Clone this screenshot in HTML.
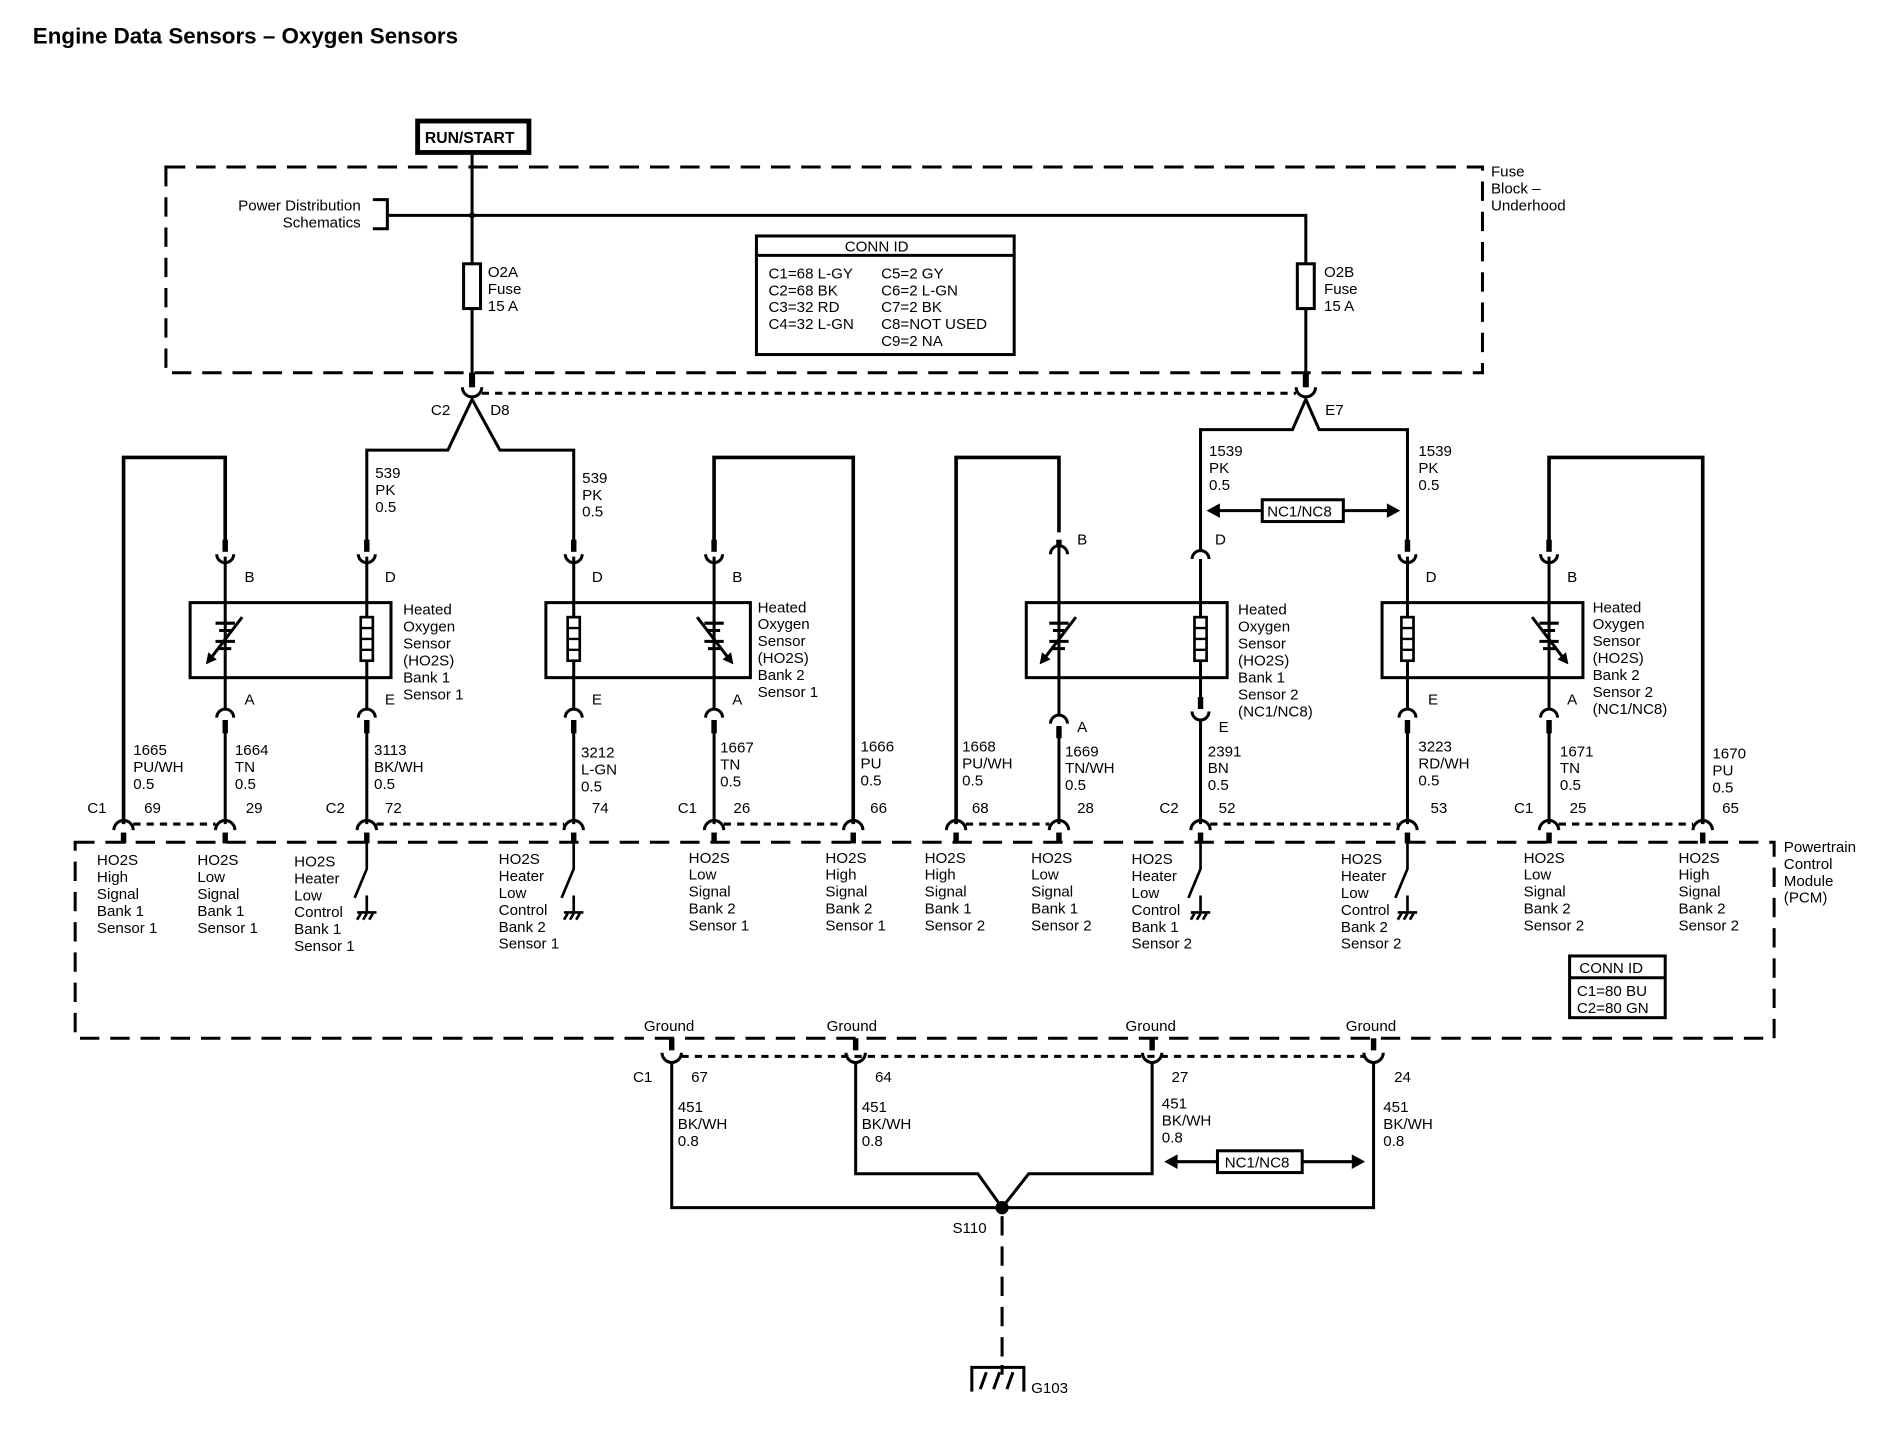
<!DOCTYPE html>
<html><head><meta charset="utf-8"><style>
html,body{margin:0;padding:0;background:#fff}
svg{display:block}
text{font-family:"Liberation Sans",Arial,sans-serif;font-size:12.5px;fill:#000}
.b{font-weight:bold}
</style></head><body>
<svg width="1888" height="1440" viewBox="0 0 1560 1190" xmlns="http://www.w3.org/2000/svg">
<rect width="1560" height="1190" fill="#fff"/>
<text x="27" y="36" class="b" style="font-size:18.5px">Engine Data Sensors – Oxygen Sensors</text>

<g fill="none" stroke="#000">
<!-- RUN/START -->
<rect x="345" y="100" width="92" height="26" stroke-width="4"/>
<!-- fuse block dashed -->
<rect x="137" y="138" width="1088" height="170" stroke-width="2.5" stroke-dasharray="16 9"/>
<!-- PCM dashed -->
<rect x="62" y="696" width="1404" height="162" stroke-width="2.5" stroke-dasharray="16 9"/>
<g stroke-width="2.5">
<line x1="390" y1="127" x2="390" y2="320"/>
<polyline points="308,165 320,165 320,189 308,189"/>
<polyline points="320,178 1079,178 1079,320"/>
<rect x="383" y="218" width="14" height="37" fill="#fff"/>
<rect x="1072" y="218" width="14" height="37" fill="#fff"/>
<!-- CONN ID -->
<rect x="625" y="195" width="213" height="98"/>
<line x1="625" y1="211" x2="838" y2="211"/>
<rect x="1297" y="790" width="79" height="51"/>
<line x1="1297" y1="808" x2="1376" y2="808"/>
</g>
<!-- dotted connector lines -->
<g stroke-width="2.5" stroke-dasharray="6 5">
<line x1="398" y1="325" x2="1071" y2="325"/>
<line x1="110" y1="681" x2="178" y2="681"/>
<line x1="311" y1="681" x2="466" y2="681"/>
<line x1="598" y1="681" x2="697" y2="681"/>
<line x1="798" y1="681" x2="867" y2="681"/>
<line x1="1000" y1="681" x2="1155" y2="681"/>
<line x1="1288" y1="681" x2="1399" y2="681"/>
<line x1="563" y1="873" x2="1127" y2="873"/>
</g>
<!-- thick stubs -->
<g stroke-width="5">
<line x1="390" y1="308" x2="390" y2="320"/>
<line x1="1079" y1="308" x2="1079" y2="320"/>
</g>
<g stroke-width="2.5">
<!-- fuse connectors -->
<path d="M382,320 A8,8 0 0 0 398,320"/>
<path d="M1071,320 A8,8 0 0 0 1087,320"/>
<polyline points="303,455 303,372 370,372 390,330 413,372 474,372 474,455"/>
<polyline points="992,455 992,355 1068,355 1079,330 1090,355 1163,355 1163,455"/>
<!-- sensor boxes -->
<rect x="157" y="498" width="166" height="62"/>
<rect x="451" y="498" width="169" height="62"/>
<rect x="848" y="498" width="166" height="62"/>
<rect x="1142" y="498" width="166" height="62"/>
</g>
<g stroke-width="3">
<polyline points="102,681 102,378 186,378 186,448"/>
<polyline points="705,681 705,378 590,378 590,448"/>
<polyline points="790,681 790,378 875,378 875,440"/>
<polyline points="1407,681 1407,378 1280,378 1280,448"/>
</g>
<g stroke-width="2.5">
<!-- vertical wires through sensors -->
<line x1="186" y1="460" x2="186" y2="585"/><line x1="186" y1="595" x2="186" y2="681"/>
<line x1="303" y1="460" x2="303" y2="585"/><line x1="303" y1="595" x2="303" y2="681"/>
<line x1="474" y1="460" x2="474" y2="585"/><line x1="474" y1="595" x2="474" y2="681"/>
<line x1="590" y1="460" x2="590" y2="585"/><line x1="590" y1="595" x2="590" y2="681"/>
<line x1="875" y1="452" x2="875" y2="590"/><line x1="875" y1="600" x2="875" y2="681"/>
<line x1="992" y1="462" x2="992" y2="585"/><line x1="992" y1="595" x2="992" y2="681"/>
<line x1="1163" y1="460" x2="1163" y2="585"/><line x1="1163" y1="595" x2="1163" y2="681"/>
<line x1="1280" y1="460" x2="1280" y2="585"/><line x1="1280" y1="595" x2="1280" y2="681"/>
</g>
<!-- top connectors U -->
<g stroke-width="2.5">
<path d="M179,458 A7,7 0 0 0 193,458"/><path d="M296,458 A7,7 0 0 0 310,458"/>
<path d="M467,458 A7,7 0 0 0 481,458"/><path d="M583,458 A7,7 0 0 0 597,458"/>
<path d="M868,458 A7,7 0 0 1 882,458"/><path d="M985,462 A7,7 0 0 1 999,462"/>
<path d="M1156,458 A7,7 0 0 0 1170,458"/><path d="M1273,458 A7,7 0 0 0 1287,458"/>
<!-- bottom connectors ∩ -->
<path d="M179,593 A7,7 0 0 1 193,593"/><path d="M296,593 A7,7 0 0 1 310,593"/>
<path d="M467,593 A7,7 0 0 1 481,593"/><path d="M583,593 A7,7 0 0 1 597,593"/>
<path d="M868,598 A7,7 0 0 1 882,598"/><path d="M985,588 A7,7 0 0 0 999,588"/>
<path d="M1156,593 A7,7 0 0 1 1170,593"/><path d="M1273,593 A7,7 0 0 1 1287,593"/>
<!-- PCM connectors -->
<path d="M94,686 A8,8 0 0 1 110,686"/><path d="M178,686 A8,8 0 0 1 194,686"/>
<path d="M295,686 A8,8 0 0 1 311,686"/><path d="M466,686 A8,8 0 0 1 482,686"/>
<path d="M582,686 A8,8 0 0 1 598,686"/><path d="M697,686 A8,8 0 0 1 713,686"/>
<path d="M782,686 A8,8 0 0 1 798,686"/><path d="M867,686 A8,8 0 0 1 883,686"/>
<path d="M984,686 A8,8 0 0 1 1000,686"/><path d="M1155,686 A8,8 0 0 1 1171,686"/>
<path d="M1272,686 A8,8 0 0 1 1288,686"/><path d="M1399,686 A8,8 0 0 1 1415,686"/>
<!-- ground connectors -->
<path d="M547,870 A8,8 0 0 0 563,870"/><path d="M699,870 A8,8 0 0 0 715,870"/>
<path d="M944,870 A8,8 0 0 0 960,870"/><path d="M1127,870 A8,8 0 0 0 1143,870"/>
</g>
<g stroke-width="4.5">
<line x1="186" y1="446" x2="186" y2="456"/><line x1="303" y1="446" x2="303" y2="456"/>
<line x1="474" y1="446" x2="474" y2="456"/><line x1="590" y1="446" x2="590" y2="456"/>
<line x1="992" y1="576" x2="992" y2="586"/><line x1="875" y1="446" x2="875" y2="452"/>
<line x1="186" y1="595" x2="186" y2="606"/><line x1="303" y1="595" x2="303" y2="606"/>
<line x1="474" y1="595" x2="474" y2="606"/><line x1="590" y1="595" x2="590" y2="606"/>
<line x1="875" y1="600" x2="875" y2="610"/><line x1="1163" y1="595" x2="1163" y2="606"/>
<line x1="1280" y1="595" x2="1280" y2="606"/><line x1="1163" y1="446" x2="1163" y2="456"/><line x1="1280" y1="446" x2="1280" y2="456"/>
<line x1="102" y1="688" x2="102" y2="697"/><line x1="186" y1="688" x2="186" y2="697"/>
<line x1="303" y1="688" x2="303" y2="697"/><line x1="474" y1="688" x2="474" y2="697"/>
<line x1="590" y1="688" x2="590" y2="697"/><line x1="705" y1="688" x2="705" y2="697"/>
<line x1="790" y1="688" x2="790" y2="697"/><line x1="875" y1="688" x2="875" y2="697"/>
<line x1="992" y1="688" x2="992" y2="697"/><line x1="1163" y1="688" x2="1163" y2="697"/>
<line x1="1280" y1="688" x2="1280" y2="697"/><line x1="1407" y1="688" x2="1407" y2="697"/>
<line x1="555" y1="858" x2="555" y2="868"/><line x1="707" y1="858" x2="707" y2="868"/>
<line x1="952" y1="858" x2="952" y2="868"/><line x1="1135" y1="858" x2="1135" y2="868"/>
</g>
<!-- heater switches + grounds -->
<g stroke-width="2.2">
<polyline points="303,697 303,718 293,742"/><polyline points="474,697 474,718 464,742"/>
<polyline points="992,697 992,718 982,742"/><polyline points="1163,697 1163,718 1153,742"/>
<line x1="303" y1="740" x2="303" y2="754"/><line x1="295" y1="754" x2="311" y2="754"/>
<line x1="474" y1="740" x2="474" y2="754"/><line x1="466" y1="754" x2="482" y2="754"/>
<line x1="992" y1="740" x2="992" y2="754"/><line x1="984" y1="754" x2="1000" y2="754"/>
<line x1="1163" y1="740" x2="1163" y2="754"/><line x1="1155" y1="754" x2="1171" y2="754"/>
<path d="M298,755 l-3,5 M303,755 l-3,5 M308,755 l-3,5 M469,755 l-3,5 M474,755 l-3,5 M479,755 l-3,5 M987,755 l-3,5 M992,755 l-3,5 M997,755 l-3,5 M1158,755 l-3,5 M1163,755 l-3,5 M1168,755 l-3,5"/>
</g>
<!-- heater elements -->
<g stroke-width="2.2" fill="#fff">
<rect x="298" y="510" width="10" height="36"/><rect x="469" y="510" width="10" height="36"/>
<rect x="987" y="510" width="10" height="36"/><rect x="1158" y="510" width="10" height="36"/>
</g>
<path stroke-width="2" d="M298,519 h10 M298,528 h10 M298,537 h10 M469,519 h10 M469,528 h10 M469,537 h10 M987,519 h10 M987,528 h10 M987,537 h10 M1158,519 h10 M1158,528 h10 M1158,537 h10"/>
<!-- O2 sensor cells -->
<g stroke-width="2.5">
<path d="M178,515 h16 M181,521 h10 M178,530 h16 M181,536 h10"/>
<path d="M582,515 h16 M585,521 h10 M582,530 h16 M585,536 h10"/>
<path d="M867,515 h16 M870,521 h10 M867,530 h16 M870,536 h10"/>
<path d="M1272,515 h16 M1275,521 h10 M1272,530 h16 M1275,536 h10"/>
<line x1="200" y1="510" x2="174" y2="544"/><line x1="576" y1="510" x2="602" y2="544"/>
<line x1="889" y1="510" x2="863" y2="544"/><line x1="1266" y1="510" x2="1292" y2="544"/>
</g>
<!-- ground wires -->
<g stroke-width="2.5">
<polyline points="555,878 555,998 1135,998 1135,878"/>
<polyline points="707,878 707,970 808,970 828,998 850,970 952,970 952,878"/>
<line x1="828" y1="1005" x2="828" y2="1128" stroke-dasharray="16 9"/>
<line x1="828" y1="1128" x2="828" y2="1136"/>
<polyline points="803,1150 803,1130 846,1130 846,1150"/>
<path d="M815,1134 l-5,14 M826,1134 l-5,14 M837,1134 l-5,14"/>
<rect x="1043" y="413" width="67" height="18"/>
<line x1="1006" y1="422" x2="1043" y2="422"/><line x1="1110" y1="422" x2="1148" y2="422"/>
<rect x="1006" y="951" width="70" height="18"/>
<line x1="972" y1="960" x2="1006" y2="960"/><line x1="1076" y1="960" x2="1118" y2="960"/>
</g>
</g>
<g fill="#000">
<circle cx="390" cy="178" r="2.5"/>
<circle cx="828" cy="998" r="5.5"/>
<path d="M997,422 l11,-6 v12z M1157,422 l-11,-6 v12z M962,960 l11,-6 v12z M1128,960 l-11,-6 v12z"/>
<path d="M170,549 l2,-10 l7,6z M606,549 l-2,-10 l-7,6z M859,549 l2,-10 l7,6z M1296,549 l-2,-10 l-7,6z"/>
</g>

<text x="351" y="118" class="b" style="font-size:13px">RUN/START</text>
<g text-anchor="end"><text x="298" y="174">Power Distribution</text><text x="298" y="188">Schematics</text></g>
<text x="403" y="229">O2A</text><text x="403" y="243">Fuse</text><text x="403" y="257">15 A</text>
<text x="1094" y="229">O2B</text><text x="1094" y="243">Fuse</text><text x="1094" y="257">15 A</text>
<text x="1232" y="146">Fuse</text><text x="1232" y="160">Block –</text><text x="1232" y="174">Underhood</text>
<text x="698" y="208">CONN ID</text>
<text x="635" y="230">C1=68 L-GY</text><text x="635" y="244">C2=68 BK</text><text x="635" y="258">C3=32 RD</text><text x="635" y="272">C4=32 L-GN</text>
<text x="728" y="230">C5=2 GY</text><text x="728" y="244">C6=2 L-GN</text><text x="728" y="258">C7=2 BK</text><text x="728" y="272">C8=NOT USED</text><text x="728" y="286">C9=2 NA</text>
<text x="356" y="343">C2</text><text x="405" y="343">D8</text><text x="1095" y="343">E7</text>
<text x="310" y="395">539</text><text x="310" y="409">PK</text><text x="310" y="423">0.5</text>
<text x="481" y="399">539</text><text x="481" y="413">PK</text><text x="481" y="427">0.5</text>
<text x="999" y="377">1539</text><text x="999" y="391">PK</text><text x="999" y="405">0.5</text>
<text x="1172" y="377">1539</text><text x="1172" y="391">PK</text><text x="1172" y="405">0.5</text>
<text x="1047" y="427">NC1/NC8</text>
<text x="202" y="481">B</text><text x="318" y="481">D</text><text x="489" y="481">D</text><text x="605" y="481">B</text>
<text x="890" y="450">B</text><text x="1004" y="450">D</text><text x="1178" y="481">D</text><text x="1295" y="481">B</text>
<text x="202" y="582">A</text><text x="318" y="582">E</text><text x="489" y="582">E</text><text x="605" y="582">A</text>
<text x="890" y="605">A</text><text x="1007" y="605">E</text><text x="1180" y="582">E</text><text x="1295" y="582">A</text>
<g>
<text x="333" y="508">Heated</text><text x="333" y="522">Oxygen</text><text x="333" y="536">Sensor</text><text x="333" y="550">(HO2S)</text><text x="333" y="564">Bank 1</text><text x="333" y="578">Sensor 1</text>
<text x="626" y="506">Heated</text><text x="626" y="520">Oxygen</text><text x="626" y="534">Sensor</text><text x="626" y="548">(HO2S)</text><text x="626" y="562">Bank 2</text><text x="626" y="576">Sensor 1</text>
<text x="1023" y="508">Heated</text><text x="1023" y="522">Oxygen</text><text x="1023" y="536">Sensor</text><text x="1023" y="550">(HO2S)</text><text x="1023" y="564">Bank 1</text><text x="1023" y="578">Sensor 2</text><text x="1023" y="592">(NC1/NC8)</text>
<text x="1316" y="506">Heated</text><text x="1316" y="520">Oxygen</text><text x="1316" y="534">Sensor</text><text x="1316" y="548">(HO2S)</text><text x="1316" y="562">Bank 2</text><text x="1316" y="576">Sensor 2</text><text x="1316" y="590">(NC1/NC8)</text>
</g>
<g>
<text x="110" y="624">1665</text><text x="110" y="638">PU/WH</text><text x="110" y="652">0.5</text>
<text x="194" y="624">1664</text><text x="194" y="638">TN</text><text x="194" y="652">0.5</text>
<text x="309" y="624">3113</text><text x="309" y="638">BK/WH</text><text x="309" y="652">0.5</text>
<text x="480" y="626">3212</text><text x="480" y="640">L-GN</text><text x="480" y="654">0.5</text>
<text x="595" y="622">1667</text><text x="595" y="636">TN</text><text x="595" y="650">0.5</text>
<text x="711" y="621">1666</text><text x="711" y="635">PU</text><text x="711" y="649">0.5</text>
<text x="795" y="621">1668</text><text x="795" y="635">PU/WH</text><text x="795" y="649">0.5</text>
<text x="880" y="625">1669</text><text x="880" y="639">TN/WH</text><text x="880" y="653">0.5</text>
<text x="998" y="625">2391</text><text x="998" y="639">BN</text><text x="998" y="653">0.5</text>
<text x="1172" y="621">3223</text><text x="1172" y="635">RD/WH</text><text x="1172" y="649">0.5</text>
<text x="1289" y="625">1671</text><text x="1289" y="639">TN</text><text x="1289" y="653">0.5</text>
<text x="1415" y="627">1670</text><text x="1415" y="641">PU</text><text x="1415" y="655">0.5</text>
</g>
<g>
<text x="72" y="672">C1</text><text x="119" y="672">69</text><text x="203" y="672">29</text><text x="269" y="672">C2</text><text x="318" y="672">72</text>
<text x="489" y="672">74</text><text x="560" y="672">C1</text><text x="606" y="672">26</text><text x="719" y="672">66</text><text x="803" y="672">68</text>
<text x="890" y="672">28</text><text x="958" y="672">C2</text><text x="1007" y="672">52</text><text x="1182" y="672">53</text><text x="1251" y="672">C1</text>
<text x="1297" y="672">25</text><text x="1423" y="672">65</text>
</g>
<g>
<text x="80" y="715">HO2S</text><text x="80" y="729">High</text><text x="80" y="743">Signal</text><text x="80" y="757">Bank 1</text><text x="80" y="771">Sensor 1</text>
<text x="163" y="715">HO2S</text><text x="163" y="729">Low</text><text x="163" y="743">Signal</text><text x="163" y="757">Bank 1</text><text x="163" y="771">Sensor 1</text>
<text x="243" y="716">HO2S</text><text x="243" y="730">Heater</text><text x="243" y="744">Low</text><text x="243" y="758">Control</text><text x="243" y="772">Bank 1</text><text x="243" y="786">Sensor 1</text>
<text x="412" y="714">HO2S</text><text x="412" y="728">Heater</text><text x="412" y="742">Low</text><text x="412" y="756">Control</text><text x="412" y="770">Bank 2</text><text x="412" y="784">Sensor 1</text>
<text x="569" y="713">HO2S</text><text x="569" y="727">Low</text><text x="569" y="741">Signal</text><text x="569" y="755">Bank 2</text><text x="569" y="769">Sensor 1</text>
<text x="682" y="713">HO2S</text><text x="682" y="727">High</text><text x="682" y="741">Signal</text><text x="682" y="755">Bank 2</text><text x="682" y="769">Sensor 1</text>
<text x="764" y="713">HO2S</text><text x="764" y="727">High</text><text x="764" y="741">Signal</text><text x="764" y="755">Bank 1</text><text x="764" y="769">Sensor 2</text>
<text x="852" y="713">HO2S</text><text x="852" y="727">Low</text><text x="852" y="741">Signal</text><text x="852" y="755">Bank 1</text><text x="852" y="769">Sensor 2</text>
<text x="935" y="714">HO2S</text><text x="935" y="728">Heater</text><text x="935" y="742">Low</text><text x="935" y="756">Control</text><text x="935" y="770">Bank 1</text><text x="935" y="784">Sensor 2</text>
<text x="1108" y="714">HO2S</text><text x="1108" y="728">Heater</text><text x="1108" y="742">Low</text><text x="1108" y="756">Control</text><text x="1108" y="770">Bank 2</text><text x="1108" y="784">Sensor 2</text>
<text x="1259" y="713">HO2S</text><text x="1259" y="727">Low</text><text x="1259" y="741">Signal</text><text x="1259" y="755">Bank 2</text><text x="1259" y="769">Sensor 2</text>
<text x="1387" y="713">HO2S</text><text x="1387" y="727">High</text><text x="1387" y="741">Signal</text><text x="1387" y="755">Bank 2</text><text x="1387" y="769">Sensor 2</text>
</g>
<text x="1474" y="704">Powertrain</text><text x="1474" y="718">Control</text><text x="1474" y="732">Module</text><text x="1474" y="746">(PCM)</text>
<text x="1305" y="804">CONN ID</text><text x="1303" y="823">C1=80 BU</text><text x="1303" y="837">C2=80 GN</text>
<text x="532" y="852">Ground</text><text x="683" y="852">Ground</text><text x="930" y="852">Ground</text><text x="1112" y="852">Ground</text>
<text x="523" y="894">C1</text><text x="571" y="894">67</text><text x="723" y="894">64</text><text x="968" y="894">27</text><text x="1152" y="894">24</text>
<text x="560" y="919">451</text><text x="560" y="933">BK/WH</text><text x="560" y="947">0.8</text>
<text x="712" y="919">451</text><text x="712" y="933">BK/WH</text><text x="712" y="947">0.8</text>
<text x="960" y="916">451</text><text x="960" y="930">BK/WH</text><text x="960" y="944">0.8</text>
<text x="1143" y="919">451</text><text x="1143" y="933">BK/WH</text><text x="1143" y="947">0.8</text>
<text x="1012" y="965">NC1/NC8</text>
<text x="787" y="1019">S110</text>
<text x="852" y="1151">G103</text>
</svg>
</body></html>
